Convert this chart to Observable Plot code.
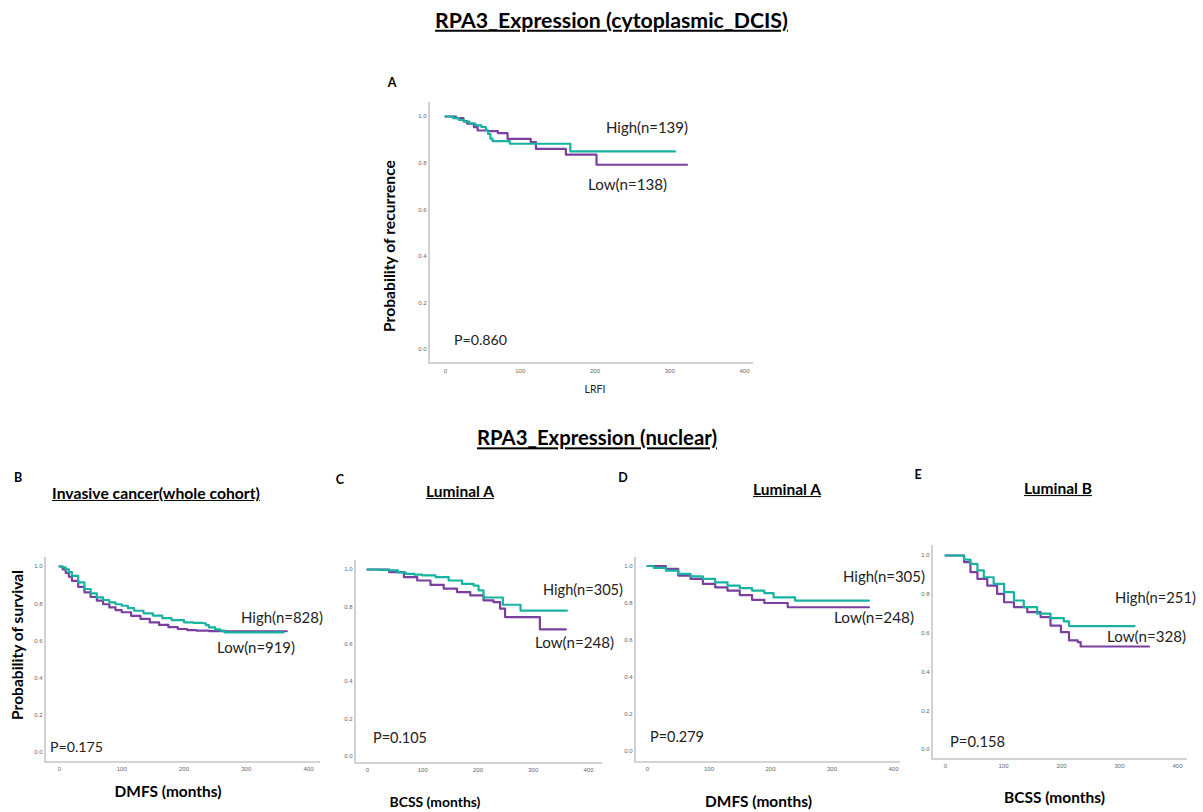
<!DOCTYPE html>
<html><head><meta charset="utf-8">
<script src="https://cdn.jsdelivr.net/npm/d3@7"></script>
<script src="https://cdn.jsdelivr.net/npm/@observablehq/plot@0.6"></script>
<style>
body{margin:0;background:#fff;}
#fig{position:relative;width:1203px;height:812px;overflow:hidden;background:#fff;font-family:Lato,"Open Sans",sans-serif;color:#111;}
.t{position:absolute;white-space:nowrap;transform-origin:0 0;line-height:1.15;}
#fig svg{position:absolute;overflow:visible;}
</style></head><body><div id="fig"></div>
<script>
// ---------- data ----------
const xTicks = [0, 100, 200, 300, 400];
const yTicks = [0, 0.2, 0.4, 0.6, 0.8, 1.0];
const groups = ["High", "Low"];

// A: LRFI (cytoplasmic DCIS)
const aHighT = [0, 10, 18, 25, 32, 40, 48, 54, 57, 60, 63, 86, 167, 307];
const aHighS = [1, 0.993, 0.985, 0.978, 0.97, 0.962, 0.955, 0.94, 0.925, 0.905, 0.894, 0.883, 0.85, 0.85];
const aLowT  = [0, 14, 24, 29, 38, 43, 57, 70, 83, 114, 121, 161, 202, 323];
const aLowS  = [1, 0.993, 0.98, 0.969, 0.954, 0.94, 0.937, 0.929, 0.904, 0.89, 0.861, 0.836, 0.793, 0.793];

// B: DMFS, invasive cancer whole cohort
const bHighT = [0, 5, 10, 15, 20, 30, 40, 50, 60, 70, 80, 90, 100, 110, 120, 135, 150, 165, 180, 200, 215, 230, 235, 240, 250, 258, 265, 360];
const bHighS = [1, 0.995, 0.985, 0.97, 0.95, 0.915, 0.879, 0.855, 0.834, 0.82, 0.807, 0.797, 0.789, 0.776, 0.762, 0.748, 0.736, 0.722, 0.712, 0.70, 0.697, 0.695, 0.685, 0.673, 0.662, 0.655, 0.646, 0.646];
const bLowT  = [0, 5, 10, 15, 20, 30, 40, 50, 60, 70, 80, 90, 100, 115, 130, 145, 160, 175, 190, 205, 220, 240, 260, 365];
const bLowS  = [1, 0.985, 0.965, 0.945, 0.923, 0.89, 0.861, 0.836, 0.816, 0.797, 0.78, 0.765, 0.754, 0.735, 0.718, 0.70, 0.686, 0.674, 0.664, 0.658, 0.655, 0.653, 0.652, 0.652];

// C: BCSS, Luminal A
const cHighT = [0, 20, 39, 55, 69, 85, 99, 123, 147, 171, 192, 201, 210, 245, 277, 361];
const cHighS = [1, 0.998, 0.995, 0.985, 0.977, 0.972, 0.968, 0.959, 0.941, 0.923, 0.914, 0.888, 0.85, 0.811, 0.78, 0.78];
const cLowT  = [0, 20, 39, 66, 90, 114, 138, 162, 186, 210, 228, 240, 249, 312, 359];
const cLowS  = [1, 1, 0.986, 0.959, 0.941, 0.918, 0.897, 0.879, 0.861, 0.834, 0.825, 0.79, 0.745, 0.679, 0.679];

// D: DMFS, Luminal A
const dHighT = [0, 10, 30, 50, 70, 90, 110, 130, 150, 170, 190, 205, 240, 360];
const dHighS = [1, 0.99, 0.975, 0.957, 0.944, 0.93, 0.912, 0.894, 0.88, 0.867, 0.853, 0.83, 0.813, 0.813];
const dLowT  = [0, 15, 30, 50, 70, 90, 110, 130, 150, 170, 190, 228, 360];
const dLowS  = [1, 1, 0.984, 0.948, 0.93, 0.903, 0.885, 0.867, 0.843, 0.817, 0.80, 0.777, 0.777];

// E: BCSS, Luminal B
const eHighT = [0, 20, 32, 43, 55, 66, 83, 101, 118, 135, 158, 181, 204, 213, 326];
const eHighS = [1, 1, 0.979, 0.957, 0.923, 0.888, 0.854, 0.811, 0.768, 0.734, 0.70, 0.677, 0.66, 0.636, 0.636];
const eLowT  = [0, 14, 32, 43, 55, 72, 89, 101, 118, 141, 164, 181, 199, 213, 228, 233, 351];
const eLowS  = [1, 1, 0.966, 0.914, 0.88, 0.845, 0.802, 0.759, 0.734, 0.708, 0.682, 0.639, 0.605, 0.562, 0.553, 0.531, 0.531];

const colors = {High: "#17b3a0", Low: "#7a3f9f"};

// ---------- layout ----------
const fig = document.getElementById("fig");

function series(t, s, g) { return t.map((v, i) => ({t: v, s: s[i], g})); }

function panel(geo, highT, highS, lowT, lowS) {
  const W = geo.axR - geo.axL + 60, H = geo.axB - geo.axT + 30;
  const low = series(lowT, lowS, "Low"), high = series(highT, highS, "High");
  const svg = Plot.plot({
    width: W, height: H,
    marginLeft: 40, marginRight: 20, marginTop: 10, marginBottom: 20,
    x: {domain: [0, 400], insetLeft: geo.x0 - geo.axL, insetRight: geo.axR - geo.x400,
        ticks: xTicks, tickSize: 0, tickPadding: geo.tpx, label: null},
    y: {domain: [0, 1], insetTop: geo.y1 - geo.axT, insetBottom: geo.axB - geo.y0,
        ticks: yTicks, tickSize: 0, tickPadding: 3, tickFormat: d3.format(".1f"), label: null},
    color: {domain: groups, range: groups.map(g => colors[g])},
    style: {fontFamily: "'Liberation Sans', sans-serif", fontSize: "6px", color: "#666", background: "transparent"},
    marks: [
      Plot.line(low, {x: "t", y: "s", stroke: "g", strokeWidth: 2.2, curve: "step-after"}),
      Plot.line(high, {x: "t", y: "s", stroke: "g", strokeWidth: 2.2, curve: "step-after"})
    ]
  });
  d3.select(svg).insert("path", ":first-child")
    .attr("d", `M40,10V${H - 20}H${W - 20}`)
    .attr("fill", "none").attr("stroke", "#c6c6c6").attr("stroke-width", 1.6);
  svg.style.left = (geo.axL - 40) + "px";
  svg.style.top = (geo.axT - 10) + "px";
  fig.appendChild(svg);
}

panel({axL: 429, axT: 102, axB: 363, axR: 753, x0: 445, x400: 744, y1: 116, y0: 349, tpx: 5}, aHighT, aHighS, aLowT, aLowS);
panel({axL: 45, axT: 557, axB: 762, axR: 320, x0: 59, x400: 308, y1: 566, y0: 752, tpx: 4}, bHighT, bHighS, bLowT, bLowS);
panel({axL: 355, axT: 560, axB: 763, axR: 602, x0: 367, x400: 588, y1: 569, y0: 755.5, tpx: 4}, cHighT, cHighS, cLowT, cLowS);
panel({axL: 635, axT: 557, axB: 762, axR: 900, x0: 647, x400: 893, y1: 565.5, y0: 750.5, tpx: 4}, dHighT, dHighS, dLowT, dLowS);
panel({axL: 932, axT: 545, axB: 759, axR: 1187, x0: 945, x400: 1177, y1: 555, y0: 749, tpx: 4}, eHighT, eHighS, eLowT, eLowS);

// ---------- text ----------
const texts = [
  {text: "RPA3_Expression (cytoplasmic_DCIS)", x: 611.5, y: 20, w: 353, b: 1, u: 1, c: "#000"},
  {text: "A", x: 392, y: 83, fs: 12.5, b: 1, c: "#000"},
  {text: "Probability of recurrence", x: 389, y: 246, w: 172, b: 1, r: -90, c: "#000"},
  {text: "LRFI", x: 595, y: 389, w: 21, c: "#222"},
  {text: "High(n=139)", x: 647, y: 128, w: 82},
  {text: "Low(n=138)", x: 627.5, y: 185, w: 79},
  {text: "P=0.860", x: 480.5, y: 340, w: 53},

  {text: "RPA3_Expression (nuclear)", x: 597, y: 438, w: 240, b: 1, u: 1, c: "#000"},
  {text: "B", x: 18, y: 478, fs: 12.5, b: 1, c: "#000"},
  {text: "Invasive cancer(whole cohort)", x: 156, y: 493, w: 208, b: 1, u: 1, c: "#000"},
  {text: "Probability of survival", x: 18, y: 645, w: 150, b: 1, r: -90, c: "#000"},
  {text: "DMFS (months)", x: 168, y: 792, w: 107, b: 1, c: "#000"},
  {text: "High(n=828)", x: 282, y: 618, w: 82},
  {text: "Low(n=919)", x: 256, y: 648, w: 78},
  {text: "P=0.175", x: 76.5, y: 747, w: 53},

  {text: "C", x: 340, y: 480, fs: 12.5, b: 1, c: "#000"},
  {text: "Luminal A", x: 460, y: 492, w: 68, b: 1, u: 1, c: "#000"},
  {text: "BCSS (months)", x: 435, y: 802, w: 91, b: 1, c: "#000"},
  {text: "High(n=305)", x: 583, y: 590, w: 80},
  {text: "Low(n=248)", x: 574.5, y: 643, w: 79},
  {text: "P=0.105", x: 400, y: 738, w: 54},

  {text: "D", x: 623, y: 478, fs: 12.5, b: 1, c: "#000"},
  {text: "Luminal A", x: 787, y: 490, w: 68, b: 1, u: 1, c: "#000"},
  {text: "DMFS (months)", x: 758.5, y: 802, w: 107, b: 1, c: "#000"},
  {text: "High(n=305)", x: 884, y: 577, w: 82},
  {text: "Low(n=248)", x: 874, y: 618, w: 80},
  {text: "P=0.279", x: 677, y: 737, w: 54},

  {text: "E", x: 918, y: 475, fs: 12.5, b: 1, c: "#000"},
  {text: "Luminal B", x: 1058, y: 489, w: 68, b: 1, u: 1, c: "#000"},
  {text: "BCSS (months)", x: 1054.5, y: 798, w: 101, b: 1, c: "#000"},
  {text: "High(n=251)", x: 1155.5, y: 597, w: 81},
  {text: "Low(n=328)", x: 1146.5, y: 637, w: 79},
  {text: "P=0.158", x: 977.5, y: 741, w: 55}
];

for (const s of texts) {
  const d = document.createElement("div");
  d.className = "t";
  d.textContent = s.text;
  d.style.fontWeight = s.b ? "700" : "400";
  if (s.u) d.style.textDecoration = "underline";
  d.style.color = s.c || "#222";
  d.style.fontSize = "20px";
  fig.appendChild(d);
  if (s.w) {
    const w0 = d.getBoundingClientRect().width;
    d.style.fontSize = (20 * s.w / w0) + "px";
  } else {
    d.style.fontSize = s.fs + "px";
  }
  d.style.left = s.x + "px";
  d.style.top = s.y + "px";
  d.style.transform = `rotate(${s.r || 0}deg) translate(-50%,-50%)`;
}
</script>
</body></html>
